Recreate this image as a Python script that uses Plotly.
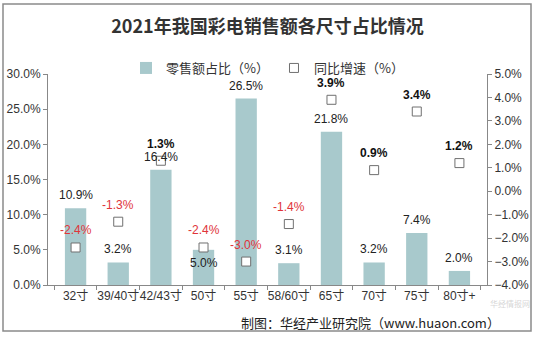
import plotly.graph_objects as go

categories = ["32寸", "39/40寸", "42/43寸", "50寸", "55寸", "58/60寸", "65寸", "70寸", "75寸", "80寸+"]
share = [10.9, 3.2, 16.4, 5.0, 26.5, 3.1, 21.8, 3.2, 7.4, 2.0]
growth = [-2.4, -1.3, 1.3, -2.4, -3.0, -1.4, 3.9, 0.9, 3.4, 1.2]

FONT = "Liberation Sans, Arial, Noto Sans CJK SC, sans-serif"
CJK = "Noto Sans CJK SC, sans-serif"
BAR_COLOR = "#A8C9CC"

fig = go.Figure()
fig.add_trace(go.Bar(
    x=categories, y=share, name="零售额占比（%）",
    marker=dict(color=BAR_COLOR, line=dict(width=0)),
    width=0.5, yaxis="y",
))
fig.add_trace(go.Scatter(
    x=categories, y=growth, name="同比增速（%）", mode="markers",
    marker=dict(symbol="square", size=9, color="white",
                line=dict(color="#707070", width=1)),
    yaxis="y2",
))

annotations = []
for c, v in zip(categories, share):
    shift = -13 if c == "50寸" else 13
    annotations.append(dict(x=c, y=v, xref="x", yref="y", text=f"{v:.1f}%",
                            showarrow=False, yshift=shift,
                            font=dict(family=FONT, size=12, color="#222")))
for c, v in zip(categories, growth):
    if v < 0:
        txt = f"{v:.1f}%"
        col = "#E0343A"
    else:
        txt = f"<b>{v:.1f}%</b>"
        col = "#111"
    annotations.append(dict(x=c, y=v, xref="x", yref="y2", text=txt,
                            showarrow=False, yshift=17,
                            font=dict(family=FONT, size=12, color=col)))

# footer, right edge at ~x=500 px
annotations.append(dict(x=(502 - 48) / 439, y=(285 - 322) / 211, xref="paper", yref="paper",
                        text="制图：华经产业研究院（www.huaon.com）", showarrow=False,
                        xanchor="right", yanchor="middle",
                        font=dict(family=CJK, size=13, color="#222")))
# faint watermark
annotations.append(dict(x=(510 - 48) / 439, y=(285 - 303) / 211, xref="paper", yref="paper",
                        text="华经情报网", showarrow=False,
                        xanchor="center", yanchor="middle",
                        font=dict(family=CJK, size=8, color="rgba(170,170,170,0.5)")))

fig.update_layout(
    width=535, height=338,
    margin=dict(l=48, r=48, t=74, b=53, autoexpand=False),
    paper_bgcolor="white", plot_bgcolor="white",
    title=dict(text="<b>2021年我国彩电销售额各尺寸占比情况</b>", x=0.5, xanchor="center",
               y=(338 - 27) / 338, yanchor="middle",
               font=dict(family=CJK, size=18, color="#333")),
    showlegend=True,
    legend=dict(orientation="h", x=0.5, xanchor="center", y=(285 - 68) / 211, yanchor="middle",
                font=dict(family=CJK, size=13, color="#333"), itemwidth=30,
                bgcolor="rgba(0,0,0,0)", tracegroupgap=0),
    xaxis=dict(type="category", showline=True, linecolor="#888", linewidth=1,
               ticks="outside", tickson="boundaries", ticklen=4, tickcolor="#888",
               tickangle=0,
               tickfont=dict(family=FONT, size=12, color="#333"), showgrid=False),
    yaxis=dict(range=[0, 30], dtick=5, tickformat=".1f", ticksuffix="%",
               showline=True, linecolor="#888", linewidth=1, ticks="outside",
               ticklen=4, tickcolor="#888", showgrid=False, zeroline=False,
               tickfont=dict(family=FONT, size=12, color="#333")),
    yaxis2=dict(range=[-4, 5], dtick=1, tickformat=".1f", ticksuffix="%",
                overlaying="y", side="right",
                showline=True, linecolor="#888", linewidth=1, ticks="outside",
                ticklen=4, tickcolor="#888", showgrid=False, zeroline=False,
                tickfont=dict(family=FONT, size=12, color="#333")),
    annotations=annotations,
    shapes=[dict(type="rect", xref="paper", yref="paper",
                 x0=(3 - 48) / 439, x1=(531 - 48) / 439,
                 y0=(285 - 331) / 211, y1=(285 - 4) / 211,
                 line=dict(color="#8a8a8a", width=1.5), fillcolor="rgba(0,0,0,0)")],
)

fig.write_html("out.html")
